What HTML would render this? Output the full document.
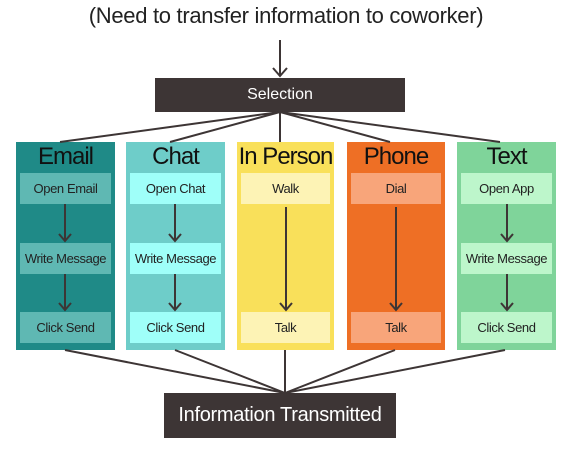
<!DOCTYPE html>
<html><head><style>
body{margin:0;width:572px;height:455px;background:#fff;position:relative;overflow:hidden;font-family:"Liberation Sans",sans-serif;}
.t{position:absolute;left:0;width:572px;top:3px;text-align:center;font-size:22px;color:#222;white-space:nowrap;letter-spacing:-0.3px;}
.col{position:absolute;top:142px;height:208px;}
.h{position:absolute;left:0;right:0;top:1px;text-align:center;font-size:24px;color:#111;white-space:nowrap;letter-spacing:-1px;}
.b{position:absolute;left:4px;right:4px;height:31px;line-height:31px;text-align:center;font-size:13px;color:#222;white-space:nowrap;letter-spacing:-0.4px;}
.dk{position:absolute;background:#3d3535;color:#fff;text-align:center;white-space:nowrap;}
svg{position:absolute;left:0;top:0;}
</style></head><body>
<div class="t">(Need to transfer information to coworker)</div>
<div class="dk" style="left:155px;top:78px;width:250px;height:34px;line-height:34px;font-size:16px;">Selection</div>
<div class="dk" style="left:164px;top:393px;width:232px;height:45px;line-height:45px;font-size:20px;letter-spacing:-0.3px;">Information Transmitted</div>

<div class="col" style="left:16px;width:99px;background:#1f8a87"><div class="h">Email</div>
<div class="b" style="top:31px;background:#5fb8b3">Open Email</div><div class="b" style="top:101px;background:#5fb8b3">Write Message</div><div class="b" style="top:170px;background:#5fb8b3">Click Send</div></div>
<div class="col" style="left:126px;width:99px;background:#6ecdc9"><div class="h">Chat</div>
<div class="b" style="top:31px;background:#9ffff9">Open Chat</div><div class="b" style="top:101px;background:#9ffff9">Write Message</div><div class="b" style="top:170px;background:#9ffff9">Click Send</div></div>
<div class="col" style="left:237px;width:97px;background:#f9e05a"><div class="h">In Person</div>
<div class="b" style="top:31px;background:#fdf3b5">Walk</div><div class="b" style="top:170px;background:#fdf3b5">Talk</div></div>
<div class="col" style="left:347px;width:98px;background:#ee6f25"><div class="h">Phone</div>
<div class="b" style="top:31px;background:#f8a57a">Dial</div><div class="b" style="top:170px;background:#f8a57a">Talk</div></div>
<div class="col" style="left:457px;width:99px;background:#7fd49a"><div class="h">Text</div>
<div class="b" style="top:31px;background:#bdf6cb">Open App</div><div class="b" style="top:101px;background:#bdf6cb">Write Message</div><div class="b" style="top:170px;background:#bdf6cb">Click Send</div></div>

<svg width="572" height="455" fill="none" stroke="#3d3535" stroke-width="2">
<path d="M280 40V76M273 68l7 8 7-8"/>
<path d="M280 112L60 142M280 112L170 142M280 112V142M280 112L390 142M280 112L500 142"/>
<path d="M65 350L285 393M175 350L285 393M285 350V393M395 350L285 393M505 350L285 393"/>
<g>
<path d="M65 204V241M59 234l6 7 6-7M65 274V310M59 303l6 7 6-7"/>
<path d="M175 204V241M169 234l6 7 6-7M175 274V310M169 303l6 7 6-7"/>
<path d="M286 207V310M280 303l6 7 6-7"/>
<path d="M396 207V310M390 303l6 7 6-7"/>
<path d="M507 204V241M501 234l6 7 6-7M507 274V310M501 303l6 7 6-7"/>
</g>
</svg>
</body></html>
